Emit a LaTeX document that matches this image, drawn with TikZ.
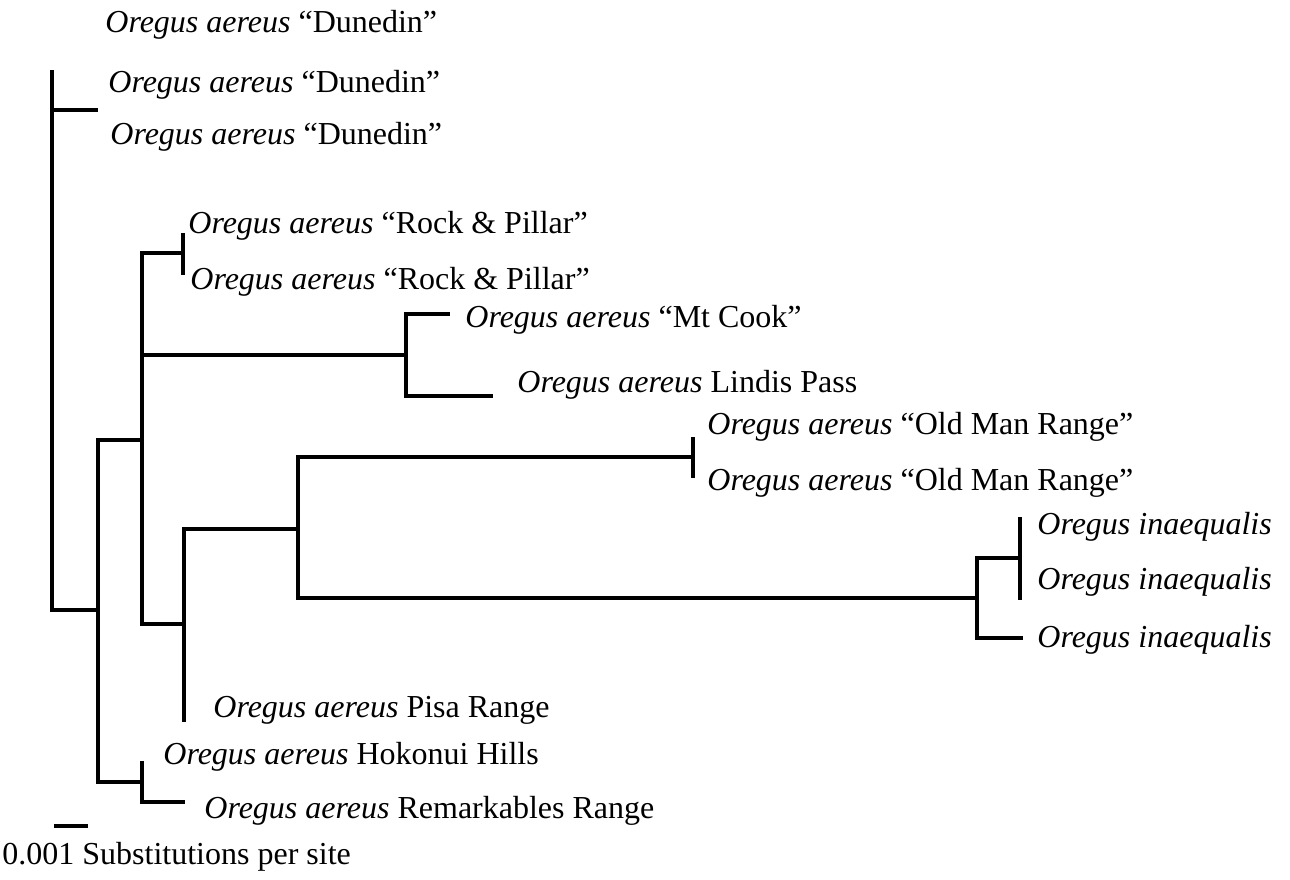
\documentclass[tikz,border=0pt]{standalone}
\usepackage{fontspec}
\setmainfont{Liberation Serif}
\usetikzlibrary{positioning}

\begin{document}
\begin{tikzpicture}[x=0.5pt, y=-0.5pt,
        branch/.style={line width=1.7pt},
        taxon/.style={anchor=west, inner sep=0pt, font=\fontsize{16}{19}\selectfont}]
        \useasboundingbox (0,0) rectangle (1290,879);
        % internal nodes of the tree
        \coordinate (nR) at (52,340);
        \coordinate (nA) at (98,610);
        \coordinate (nB) at (142,440);
        \coordinate (nC) at (184,624);
        \coordinate (nD) at (298,529);
        \coordinate (nE) at (977,598);
        \coordinate (nH) at (142,782);
        \coordinate (dun) at (98,110);
        \coordinate (rp) at (183,253);
        \coordinate (mc) at (406,355);
        \coordinate (om) at (693,457);
        \coordinate (ia) at (1020,558);
        % tips
        \coordinate (dunTop) at (52,70);
        \coordinate (rpTop) at (183,233);
        \coordinate (rpBot) at (183,275);
        \coordinate (cookEnd) at (450,314);
        \coordinate (lindisEnd) at (493,396);
        \coordinate (pisaEnd) at (184,722);
        \coordinate (omTop) at (693,437);
        \coordinate (omBot) at (693,478);
        \coordinate (iaTop) at (1020,517);
        \coordinate (iaBot) at (1020,600);
        \coordinate (ia3End) at (1023,638);
        \coordinate (hokoEnd) at (142,761);
        \coordinate (remEnd) at (185,802);
        % labels
        \node[taxon] (dun1) at (105,25) {\textit{Oregus aereus} “Dunedin”};
        \node[taxon] (dun2) at (108,85) {\textit{Oregus aereus} “Dunedin”};
        \node[taxon] (dun3) at (110,137) {\textit{Oregus aereus} “Dunedin”};
        \node[taxon] (rp1) at (188,226) {\textit{Oregus aereus} “Rock \& Pillar”};
        \node[taxon] (rp2) at (190,282) {\textit{Oregus aereus} “Rock \& Pillar”};
        \node[taxon] (cook) at (465,320) {\textit{Oregus aereus} “Mt Cook”};
        \node[taxon] (lindis) at (517,385) {\textit{Oregus aereus} Lindis Pass};
        \node[taxon] (om1) at (707,427) {\textit{Oregus aereus} “Old Man Range”};
        \node[taxon] (om2) at (707,483) {\textit{Oregus aereus} “Old Man Range”};
        \node[taxon] (ia1) at (1037,527) {\textit{Oregus inaequalis}};
        \node[taxon] (ia2) at (1037,582) {\textit{Oregus inaequalis}};
        \node[taxon] (ia3) at (1037,640) {\textit{Oregus inaequalis}};
        \node[taxon] (pisa) at (213,710) {\textit{Oregus aereus} Pisa Range};
        \node[taxon] (hoko) at (163,757) {\textit{Oregus aereus} Hokonui Hills};
        \node[taxon] (rem) at (204,811) {\textit{Oregus aereus} Remarkables Range};
        \node[taxon] (scaletext) at (2,857) {0.001 Substitutions per site};
        % branches
        \draw[branch] (nR) -- (dunTop);
        \draw[branch] (nR) |- (dun);
        \draw[branch] (nR) |- (nA);
        \draw[branch] (nA) |- (nB);
        \draw[branch] (nA) |- (nH);
        \draw[branch] (nB) |- (rp);
        \draw[branch] (nB) |- (mc);
        \draw[branch] (nB) |- (nC);
        \draw[branch] (rpTop) -- (rpBot);
        \draw[branch] (mc) |- (cookEnd);
        \draw[branch] (mc) |- (lindisEnd);
        \draw[branch] (nC) |- (nD);
        \draw[branch] (nC) -- (pisaEnd);
        \draw[branch] (nD) |- (om);
        \draw[branch] (nD) |- (nE);
        \draw[branch] (omTop) -- (omBot);
        \draw[branch] (nE) |- (ia);
        \draw[branch] (nE) |- (ia3End);
        \draw[branch] (iaTop) -- (iaBot);
        \draw[branch] (nH) -- (hokoEnd);
        \draw[branch] (nH) |- (remEnd);
        % scale bar
        \coordinate (sbL) at (54,826);
        \coordinate (sbR) at (88,826);
        \draw[branch] (sbL) -- (sbR);
      \end{tikzpicture}
\end{document}
